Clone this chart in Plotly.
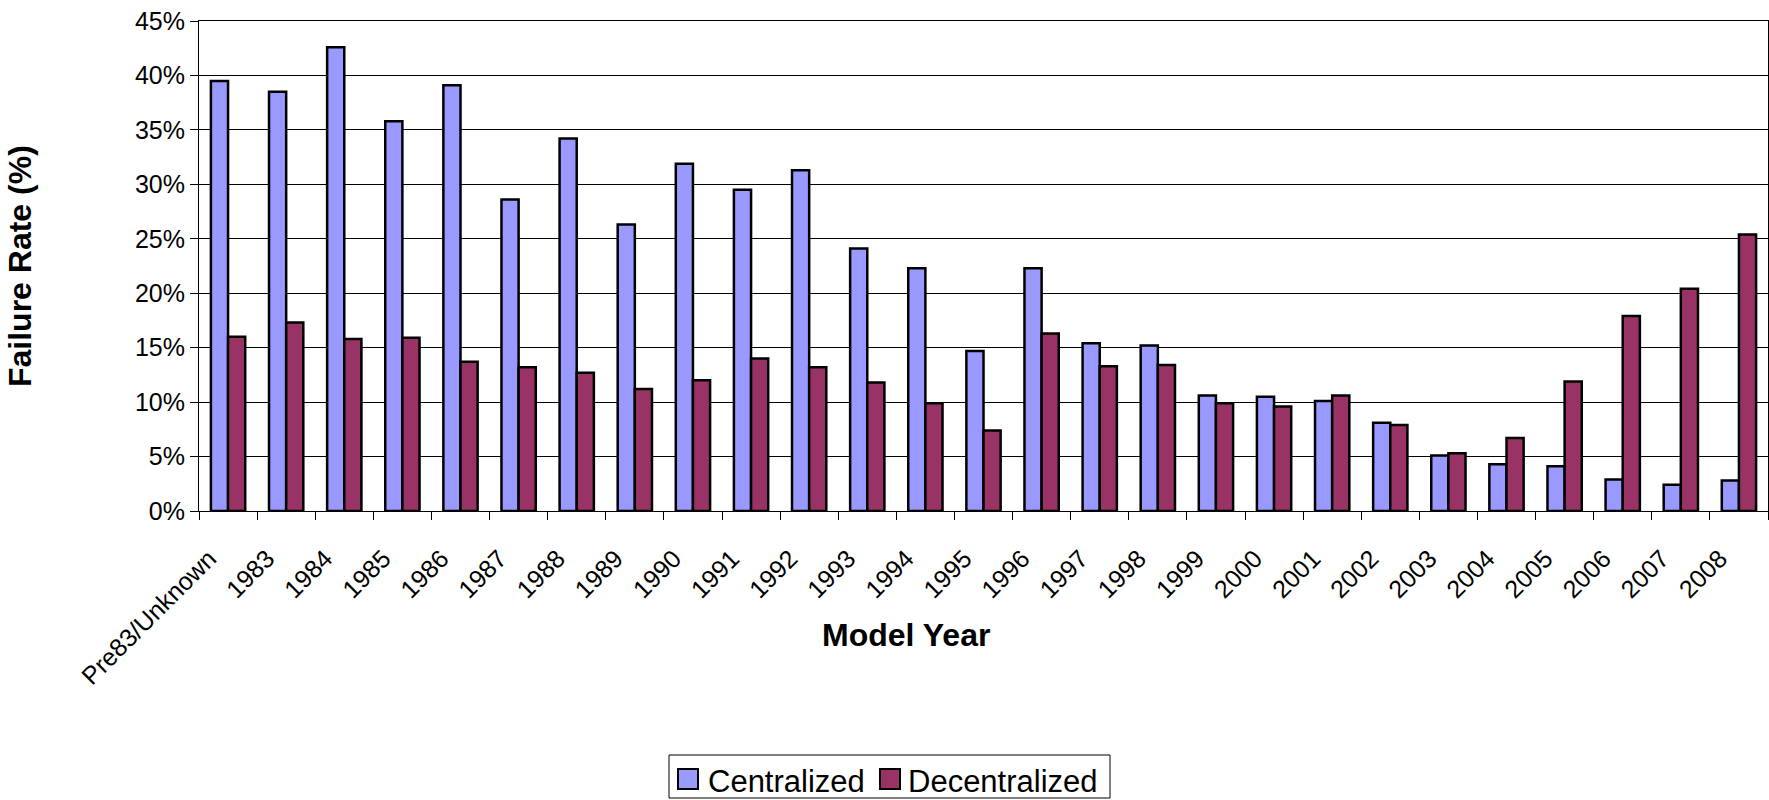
import plotly.graph_objects as go

categories = ["Pre83/Unknown", "1983", "1984", "1985", "1986", "1987", "1988", "1989",
              "1990", "1991", "1992", "1993", "1994", "1995", "1996", "1997", "1998",
              "1999", "2000", "2001", "2002", "2003", "2004", "2005", "2006", "2007", "2008"]

centralized = [39.5, 38.5, 42.6, 35.8, 39.1, 28.6, 34.2, 26.3, 31.9, 29.5, 31.3, 24.1,
               22.3, 14.7, 22.3, 15.4, 15.2, 10.6, 10.5, 10.1, 8.1, 5.1, 4.3, 4.1, 2.9, 2.4, 2.8]
decentralized = [16.0, 17.3, 15.8, 15.9, 13.7, 13.2, 12.7, 11.2, 12.0, 14.0, 13.2, 11.8,
                 9.9, 7.4, 16.3, 13.3, 13.4, 9.9, 9.6, 10.6, 7.9, 5.3, 6.7, 11.9, 17.9, 20.4, 25.4]

series_names = ["Centralized", "Decentralized"]
series_colors = ["#9999FF", "#993366"]

y_ticks = [0, 5, 10, 15, 20, 25, 30, 35, 40, 45]
y_tick_labels = [f"{v}%" for v in y_ticks]

FONT = "Liberation Sans, Arial, sans-serif"

fig = go.Figure()
for name, vals, col in zip(series_names, [centralized, decentralized], series_colors):
    fig.add_trace(go.Bar(
        name=name, x=categories, y=vals, showlegend=False,
        marker=dict(color=col, line=dict(color="#000000", width=2.5)),
    ))

W, H = 1769, 800
L, R, T, B = 199, 1, 21, 289
pw = W - L - R
ph = H - T - B


def px_x(x):
    return (x - L) / pw


def px_y(y):
    return (H - B - y) / ph


# Legend (drawn as shapes + text, box at 669..1110 x 755..798 px)
shapes = [
    dict(type="rect", xref="paper", yref="paper",
         x0=px_x(669), x1=px_x(1110), y0=px_y(798), y1=px_y(755),
         line=dict(color="black", width=1), fillcolor="white", layer="above"),
]
legend_swatch_x = [678, 880]
legend_text_x = [706, 906]
annotations = []
for name, col, sx, tx in zip(series_names, series_colors, legend_swatch_x, legend_text_x):
    shapes.append(dict(type="rect", xref="paper", yref="paper",
                       x0=px_x(sx), x1=px_x(sx + 20), y0=px_y(789), y1=px_y(769),
                       line=dict(color="black", width=2), fillcolor=col, layer="above"))
    annotations.append(dict(text=name, xref="paper", yref="paper",
                            x=px_x(tx), y=px_y(781), xanchor="left", yanchor="middle",
                            showarrow=False, font=dict(family=FONT, size=31, color="black")))

annotations += [
    dict(text="<b>Model Year</b>", xref="paper", yref="paper",
         x=px_x(906), y=px_y(635), xanchor="center", yanchor="middle",
         showarrow=False, font=dict(family=FONT, size=32, color="black")),
    dict(text="<b>Failure Rate (%)</b>", xref="paper", yref="paper",
         x=px_x(20), y=px_y(266), xanchor="center", yanchor="middle",
         textangle=-90, showarrow=False, font=dict(family=FONT, size=32, color="black")),
]

fig.update_layout(
    width=W, height=H,
    margin=dict(l=L, r=R, t=T, b=B, pad=0),
    paper_bgcolor="white", plot_bgcolor="white",
    barmode="group", bargap=0.41, bargroupgap=0.0,
    font=dict(family=FONT, color="black", size=25),
    showlegend=False,
    xaxis=dict(
        type="category",
        showline=True, linecolor="black", linewidth=1, mirror=True,
        ticks="outside", ticklen=8, tickcolor="black", tickwidth=1,
        tickson="boundaries",
        tickangle=-45,
        ticklabelshift=-19, ticklabelstandoff=22,
        tickfont=dict(family=FONT, size=25, color="black"),
        showgrid=False,
    ),
    yaxis=dict(
        range=[0, 45],
        tickvals=y_ticks, ticktext=y_tick_labels,
        showline=True, linecolor="black", linewidth=1, mirror=True,
        ticks="outside", ticklen=8, tickcolor="black", tickwidth=1,
        tickfont=dict(family=FONT, size=25, color="black"),
        showgrid=True, gridcolor="black", gridwidth=1,
        zeroline=False,
    ),
    shapes=shapes,
    annotations=annotations,
)

fig.write_html(
    "out.html",
    config={"displayModeBar": False},
    post_script="document.body.style.margin='0';document.body.style.padding='0';document.body.style.overflow='hidden';",
)
